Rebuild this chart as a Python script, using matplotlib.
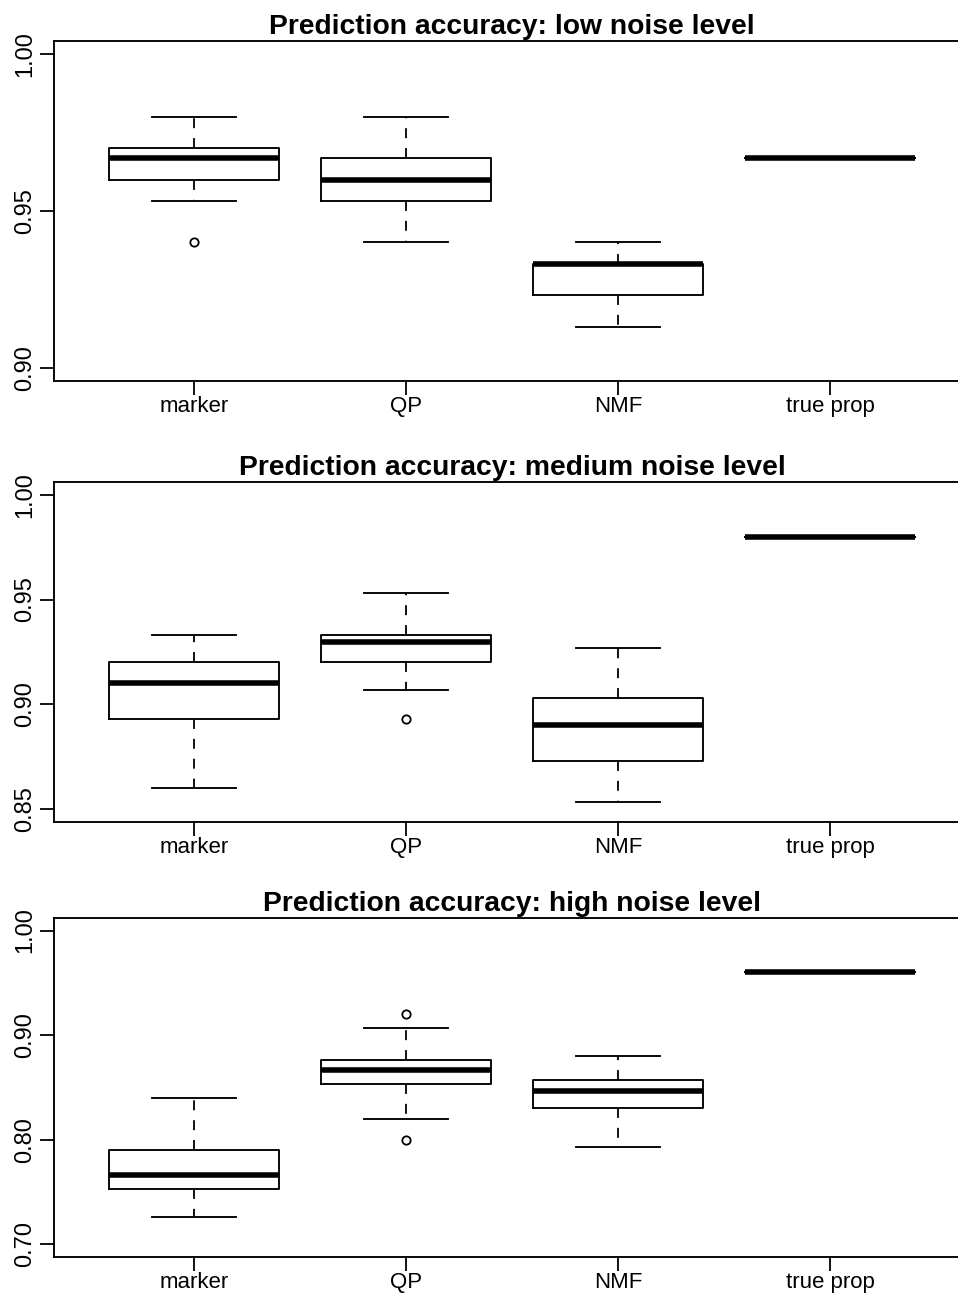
import matplotlib
matplotlib.use('Agg')
import matplotlib.pyplot as plt

# noms des methodes
methods = ['marker', 'QP', 'NMF', 'true prop']

# bruit faible
low_whislo = [0.9533, 0.9400, 0.9133, 0.9667]
low_q1 = [0.9600, 0.9533, 0.9233, 0.9667]
low_med = [0.9667, 0.9600, 0.9333, 0.9667]
low_q3 = [0.9700, 0.9667, 0.9333, 0.9667]
low_whishi = [0.9800, 0.9800, 0.9400, 0.9667]
low_fliers = [[0.940], [], [], []]

# bruit moyen
mid_whislo = [0.8600, 0.9067, 0.8533, 0.98]
mid_q1 = [0.8933, 0.9200, 0.8733, 0.98]
mid_med = [0.9100, 0.9300, 0.8900, 0.98]
mid_q3 = [0.9200, 0.9333, 0.9033, 0.98]
mid_whishi = [0.9333, 0.9533, 0.9267, 0.98]
mid_fliers = [[], [0.8933], [], []]

# bruit fort
high_whislo = [0.7267, 0.8200, 0.7933, 0.96]
high_q1 = [0.7533, 0.8533, 0.8300, 0.96]
high_med = [0.7667, 0.8667, 0.8467, 0.96]
high_q3 = [0.7900, 0.8767, 0.8567, 0.96]
high_whishi = [0.8400, 0.9067, 0.8800, 0.96]
high_fliers = [[], [0.92, 0.80], [], []]

titles = ['Prediction accuracy: low noise level',
          'Prediction accuracy: medium noise level',
          'Prediction accuracy: high noise level']
ylims = [(0.896, 1.004), (0.844, 1.006), (0.688, 1.012)]
yticks = [[0.90, 0.95, 1.00], [0.85, 0.90, 0.95, 1.00], [0.70, 0.80, 0.90, 1.00]]

panels = [
    (low_whislo, low_q1, low_med, low_q3, low_whishi, low_fliers),
    (mid_whislo, mid_q1, mid_med, mid_q3, mid_whishi, mid_fliers),
    (high_whislo, high_q1, high_med, high_q3, high_whishi, high_fliers),
]

plt.rcParams['font.family'] = ['Liberation Sans', 'DejaVu Sans']

W, H = 958, 1298
fig = plt.figure(figsize=(W / 100, H / 100), dpi=100)

# (haut, bas) des axes en pixels
tops = [41, 482, 918]
bottoms = [381, 822, 1257]
left, right = 54, 970

for k in range(3):
    wlo, q1, med, q3, whi, fl = panels[k]
    ax = fig.add_axes([left / W, 1 - bottoms[k] / H, (right - left) / W, (bottoms[k] - tops[k]) / H])
    stats = []
    for i in range(len(methods)):
        stats.append({'whislo': wlo[i], 'q1': q1[i], 'med': med[i], 'q3': q3[i],
                      'whishi': whi[i], 'fliers': fl[i], 'label': methods[i]})
    ax.bxp(stats, positions=[1, 2, 3, 4], widths=0.8, capwidths=0.4,
           boxprops=dict(color='black', linewidth=1.35),
           medianprops=dict(color='black', linewidth=4.0, solid_capstyle='butt'),
           whiskerprops=dict(color='black', linewidth=1.3, linestyle=(0, (5.5, 5.5))),
           capprops=dict(color='black', linewidth=1.35),
           flierprops=dict(marker='o', markersize=6, markerfacecolor='none',
                           markeredgecolor='black', markeredgewidth=1.3))
    ax.set_xlim(0.34, 4.66)
    ax.set_ylim(*ylims[k])
    ax.set_yticks(yticks[k])
    ax.set_yticklabels(['%.2f' % v for v in yticks[k]], rotation=90, va='center')
    ax.tick_params(axis='both', length=10, width=1.3, direction='out')
    ax.tick_params(axis='x', pad=1, labelsize=16)
    ax.tick_params(axis='y', pad=3, labelsize=17)
    for s in ax.spines.values():
        s.set_linewidth(1.35)
    ax.set_title(titles[k], fontsize=20.3, fontweight='bold', pad=5, x=0.5)

fig.savefig('out.png', dpi=100)
